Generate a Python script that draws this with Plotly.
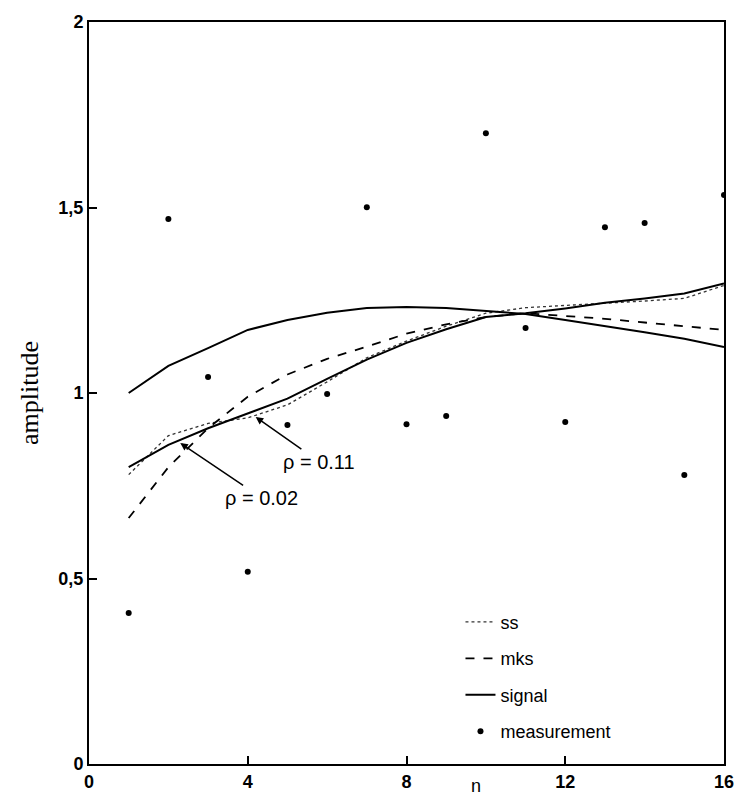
import plotly.graph_objects as go

n = list(range(1, 17))
measurement = [0.407, 1.469, 1.043, 0.518, 0.914, 0.997, 1.501, 0.916,
               0.938, 1.70, 1.175, 0.922, 1.447, 1.458, 0.779, 1.534]
signal = [1.000, 1.073, 1.121, 1.170, 1.197, 1.216, 1.229, 1.232,
          1.229, 1.221, 1.213, 1.197, 1.181, 1.164, 1.146, 1.124]
ss_rho002 = [0.800, 0.860, 0.905, 0.945, 0.985, 1.038, 1.090, 1.135,
             1.172, 1.205, 1.215, 1.228, 1.243, 1.255, 1.268, 1.295]
ss_rho011 = [0.780, 0.885, 0.918, 0.933, 0.968, 1.030, 1.095, 1.140,
             1.180, 1.215, 1.230, 1.235, 1.242, 1.248, 1.255, 1.290]
mks = [0.663, 0.800, 0.905, 0.990, 1.050, 1.092, 1.125, 1.160,
       1.185, 1.205, 1.215, 1.208, 1.200, 1.190, 1.180, 1.170]

x_ticks = [0, 4, 8, 12, 16]
y_ticks = [0, 0.5, 1, 1.5, 2]
y_ticktext = ["0", "0,5", "1", "1,5", "2"]

fig = go.Figure()
fig.add_trace(go.Scatter(x=n, y=ss_rho011, mode="lines", name="ss", legendgroup="a",
                         line=dict(color="#333333", width=1.3, dash="dot")))
fig.add_trace(go.Scatter(x=n, y=mks, mode="lines", name="mks", legendgroup="b",
                         line=dict(color="black", width=1.8, dash="dash")))
fig.add_trace(go.Scatter(x=n, y=signal, mode="lines", name="signal", legendgroup="c",
                         line=dict(color="black", width=2)))
fig.add_trace(go.Scatter(x=n, y=ss_rho002, mode="lines", name="ss ρ=0.02", showlegend=False,
                         line=dict(color="black", width=2)))
fig.add_trace(go.Scatter(x=n, y=measurement, mode="markers", name="measurement", legendgroup="d",
                         marker=dict(color="black", size=6)))

fig.add_annotation(x=4.2, y=0.935, xref="x", yref="y", ax=5.8, ay=0.815, axref="x", ayref="y",
                   text="ρ = 0.11", showarrow=True, arrowhead=2, arrowsize=1, arrowwidth=1.5,
                   arrowcolor="black",
                   font=dict(family="Liberation Sans", size=20, color="black"))
fig.add_annotation(x=2.3, y=0.865, xref="x", yref="y", ax=4.35, ay=0.717, axref="x", ayref="y",
                   text="ρ = 0.02", showarrow=True, arrowhead=2, arrowsize=1, arrowwidth=1.5,
                   arrowcolor="black",
                   font=dict(family="Liberation Sans", size=20, color="black"))
fig.add_annotation(x=9.75, y=-0.03, xref="x", yref="paper", text="n", showarrow=False,
                   yanchor="middle", font=dict(family="Liberation Sans", size=18, color="black"))

fig.update_layout(
    width=746, height=804,
    margin=dict(l=89, r=16, t=20, b=40),
    paper_bgcolor="white", plot_bgcolor="white",
    font=dict(family="Liberation Sans", color="black"),
    legend=dict(x=0.585, y=0.216, xanchor="left", yanchor="top",
                bgcolor="rgba(0,0,0,0)", tracegroupgap=10,
                font=dict(family="Liberation Sans", size=18, color="black")),
)
fig.update_xaxes(range=[0, 16], tickvals=x_ticks, ticks="inside", ticklen=8, tickwidth=1.5,
                 tickcolor="black", showline=True, linecolor="black", linewidth=2, mirror=True,
                 showgrid=False, zeroline=False,
                 tickfont=dict(family="Liberation Sans", size=18, color="black", weight="bold"))
fig.update_yaxes(range=[0, 2], tickvals=y_ticks, ticktext=y_ticktext, ticks="inside", ticklen=8,
                 tickwidth=1.5, tickcolor="black", showline=True, linecolor="black", linewidth=2,
                 mirror=True, showgrid=False, zeroline=False,
                 title=dict(text="amplitude", font=dict(family="Liberation Serif", size=26, color="black"),
                            standoff=12),
                 tickfont=dict(family="Liberation Sans", size=18, color="black", weight="bold"))

fig.write_html("out.html")
